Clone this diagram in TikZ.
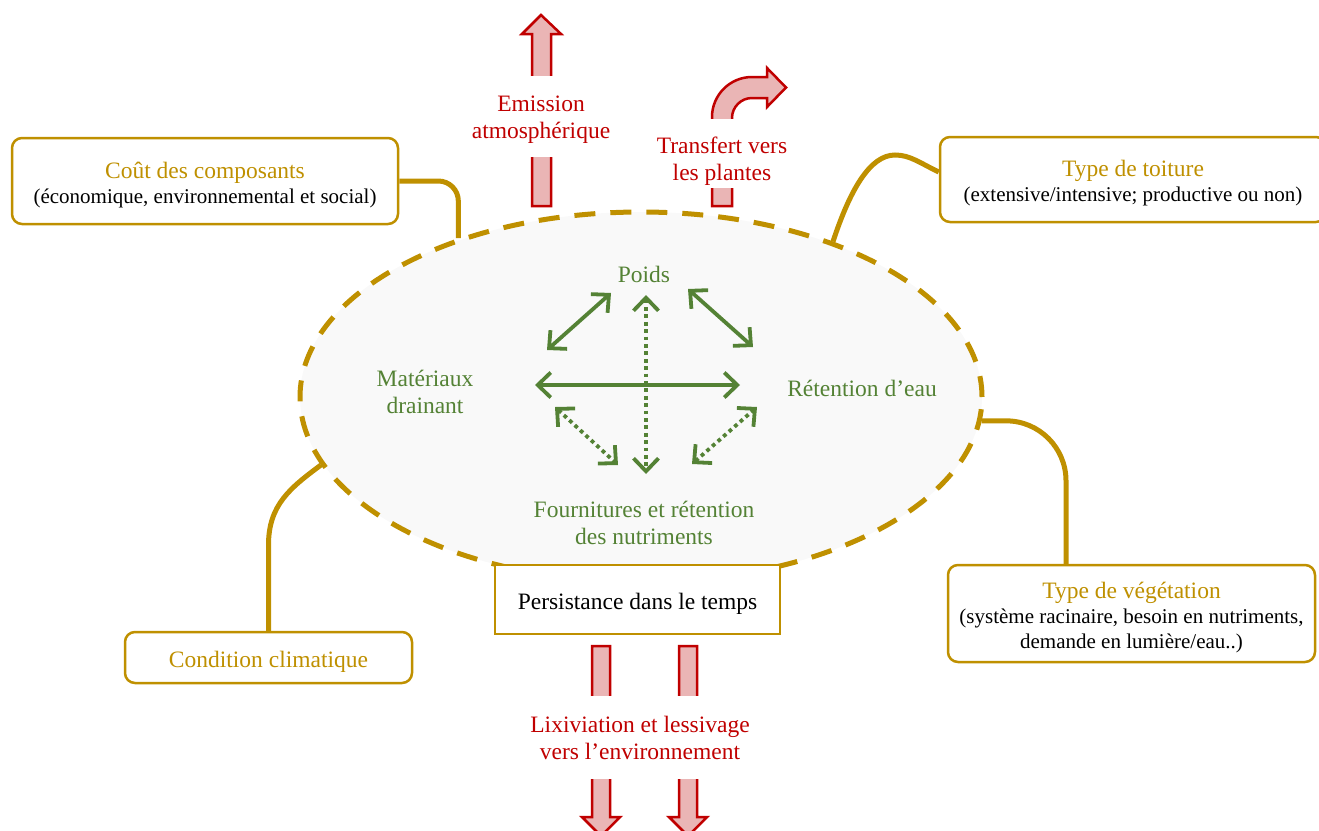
\documentclass[tikz,border=0pt]{standalone}
\usepackage{fontspec}
\setmainfont{Liberation Serif}
\usetikzlibrary{arrows.meta,shapes.geometric}
\definecolor{gold}{RGB}{191,144,0}
\definecolor{dred}{RGB}{192,0,0}
\definecolor{pinkfill}{RGB}{234,181,181}
\definecolor{dgreen}{RGB}{84,130,53}
\definecolor{ellfill}{RGB}{249,249,249}
\newcommand\bigfnt{\fontsize{23.5}{27}\selectfont}
\newcommand\smallfnt{\fontsize{21}{25}\selectfont}
\begin{document}
\begin{tikzpicture}[x=1pt,y=-1pt,
  box/.style={draw=gold, line width=2.5pt, rounded corners=10pt, fill=white, inner sep=0pt},
  boxtext/.style={align=center, inner sep=0pt, font=\smallfnt},
  link/.style={draw=gold, line width=5pt},
  blockarrow/.style={draw=dred, fill=pinkfill, line width=2.5pt, line join=miter},
  redlbl/.style={text=dred, font=\bigfnt, align=center, inner sep=0pt},
  greenlbl/.style={text=dgreen, font=\bigfnt, align=center, inner sep=0pt},
  garrow/.style={draw=dgreen, line width=3.8pt, {Straight Barb[length=13pt,width=25pt]}-{Straight Barb[length=13pt,width=25pt]}},
  gdot/.style={garrow, dash pattern=on 3.8pt off 3.6pt}
]
\useasboundingbox (0,0) rectangle (1319,830);

% central ellipse
\node[ellipse, draw=gold, fill=ellfill, line width=5pt, dash pattern=on 21pt off 15pt,
      minimum width=682pt, minimum height=370pt, inner sep=0pt] (ell) at (641,397) {};

% boxes
\node[box, minimum width=386pt, minimum height=86pt] (cout) at (205,181) {};
\node[boxtext] (coutT) at (205,185)
  {{\bigfnt\color{gold}Coût des composants}\\(économique, environnemental et social)};
\node[box, minimum width=386pt, minimum height=85pt] (toit) at (1133,179.5) {};
\node[boxtext] (toitT) at (1133,183.5)
  {{\bigfnt\color{gold}Type de toiture}\\(extensive/intensive; productive ou non)};
\node[box, minimum width=367pt, minimum height=97pt] (veg) at (1131.5,613.5) {};
\node[boxtext] (vegT) at (1131.5,617.5)
  {{\bigfnt\color{gold}Type de végétation}\\(système racinaire, besoin en nutriments,\\demande en lumière/eau..)};
\node[box, minimum width=287pt, minimum height=51pt] (clim) at (268.5,657.5) {};
\node[boxtext, font=\bigfnt, text=gold] (climT) at (268.5,662) {Condition climatique};

% connectors
\draw[link, rounded corners=20pt] (cout.east) -| (ell.139);
\draw[link] ([yshift=7.5pt]toit.west) .. controls (920,163) and (910,155) .. (895,155)
  .. controls (870,155) and (850,190) .. (ell.39);
\draw[link, rounded corners=60pt] ([xshift=-65.5pt]veg.north) |- (ell.-4);
\draw[link] (clim.north) -- (268.5,545) .. controls (268.5,505) and (290,488) .. (ell.-168);

% persistence box
\node[draw=gold, line width=2pt, fill=white, minimum width=285pt, minimum height=69pt,
      inner sep=0pt] (pers) at (637.5,599.5) {};
\node[inner sep=0pt, font=\bigfnt] (persT) at (637.5,603.5) {Persistance dans le temps};

% green labels
\node[greenlbl] (poids) at (644,274) {Poids};
\node[greenlbl] (mat) at (425,392) {Matériaux\\drainant};
\node[greenlbl] (ret) at (862,388) {Rétention d’eau};
\node[greenlbl] (four) at (644,523) {Fournitures et rétention\\des nutriments};

% green arrows
\coordinate (hL) at (535,385); \coordinate (hR) at (740,385);
\coordinate (vT) at (646,295); \coordinate (vB) at (646,474);
\coordinate (tlA) at (547,350); \coordinate (tlB) at (611,293);
\coordinate (trA) at (688,289); \coordinate (trB) at (753,347);
\coordinate (blA) at (555,407); \coordinate (blB) at (618,465);
\coordinate (brA) at (692,464); \coordinate (brB) at (757,407);
\draw[garrow] (hL) -- (hR);
\draw[gdot] (vT) -- (vB);
\draw[garrow] (tlA) -- (tlB);
\draw[garrow] (trA) -- (trB);
\draw[gdot] (blA) -- (blB);
\draw[gdot] (brA) -- (brB);

% red block arrows
\draw[blockarrow] (532,206) -- (532,34) -- (522,34) -- (541,15) -- (561,34) -- (551,34) -- (551,206) -- cycle;
\draw[blockarrow] (712,206) -- (712,117) .. controls (712,95) and (730,77) .. (752,77) -- (767,77) -- (767,68)
  -- (786,87.5) -- (767,107) -- (767,98) -- (752,98) .. controls (741,98) and (732,107) .. (732,118) -- (732,206) -- cycle;
\draw[blockarrow] (592,646) -- (610,646) -- (610,817) -- (620,817) -- (601,836) -- (582,817) -- (592,817) -- cycle;
\draw[blockarrow] (679,646) -- (697,646) -- (697,817) -- (707,817) -- (688,836) -- (669,817) -- (679,817) -- cycle;

% white gaps in the block arrows
\fill[white] (515,76) rectangle (570,157);
\fill[white] (700,119) rectangle (745,188);
\fill[white] (570,696) rectangle (720,779);

% red labels
\node[redlbl] (emis) at (541,119.5) {Emission\\atmosphérique};
\node[redlbl] (transf) at (722,161) {Transfert vers\\les plantes};
\node[redlbl] (lix) at (640,738) {Lixiviation et lessivage\\vers l’environnement};
\end{tikzpicture}
\end{document}
